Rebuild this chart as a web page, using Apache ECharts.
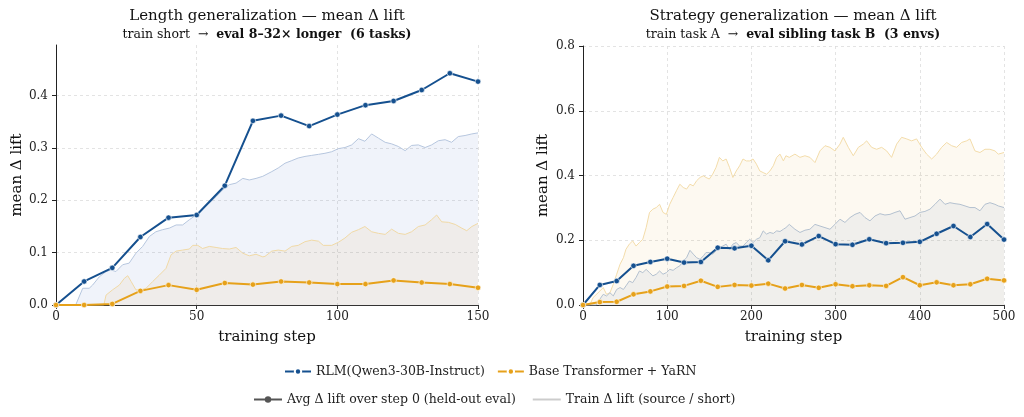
<!DOCTYPE html>
<html>
<head>
<meta charset="utf-8">
<title>mean lift</title>
<script src="https://cdn.jsdelivr.net/npm/echarts@6.0.0/dist/echarts.min.js"></script>
<style>
html,body{margin:0;padding:0;background:#fff;}
#main{width:1024px;height:417px;}
</style>
</head>
<body>
<div id="main"></div>
<script>
// length generalization: eval every 10 steps
var lenSteps = [0,10,20,30,40,50,60,70,80,90,100,110,120,130,140,150];
var lenRlm  = [0,0.045,0.071,0.130,0.167,0.172,0.228,0.352,0.362,0.342,0.364,0.382,0.390,0.411,0.443,0.427];
var lenBase = [0,0,0.002,0.027,0.038,0.029,0.042,0.039,0.045,0.043,0.040,0.040,0.047,0.043,0.040,0.033];

// train curves (step, value)
var lenTrainRlm = [[0,0],[7,0],[9.5,0.032],[11.8,0.032],[13,0.038],[15.4,0.054],[17.8,0.064],[19.5,0.067],[21.3,0.064],[23.7,0.077],[26,0.080],[28.4,0.099],[30.8,0.112],[33.2,0.131],[35.5,0.140],[37.9,0.144],[40.3,0.147],[42.7,0.153],[45,0.153],[47.4,0.163],[49.8,0.172],[52.1,0.185],[54.5,0.195],[56.9,0.207],[59.2,0.220],[61.6,0.230],[64,0.233],[66.4,0.242],[68.7,0.239],[71.1,0.242],[73.5,0.246],[76.7,0.255],[79,0.262],[81.4,0.271],[83.8,0.276],[86.1,0.281],[88.5,0.284],[90.9,0.286],[93.3,0.288],[95.6,0.290],[98,0.293],[100.4,0.299],[102.7,0.301],[105.1,0.306],[107.5,0.318],[109.8,0.313],[112.2,0.327],[114.6,0.319],[117,0.311],[119.3,0.308],[121.7,0.303],[124.1,0.295],[126.4,0.305],[128.8,0.306],[131.2,0.301],[133.5,0.306],[135.9,0.314],[138.3,0.316],[140.6,0.311],[143,0.322],[145.4,0.324],[147.8,0.327],[150,0.329]];
var lenTrainBase = [[0,0],[17,0],[17.8,0.019],[20.1,0.029],[22.5,0.038],[24.3,0.051],[25.5,0.056],[26.7,0.045],[28.4,0.029],[30.2,0.029],[32,0.032],[34.4,0.045],[36.7,0.057],[39.1,0.070],[40.9,0.096],[42.7,0.103],[45,0.105],[47.4,0.107],[48.6,0.114],[50.4,0.114],[52.1,0.108],[54.5,0.112],[56.9,0.110],[59.2,0.108],[61.6,0.107],[64,0.110],[66.4,0.099],[68.7,0.094],[71.1,0.097],[73.5,0.092],[74.3,0.093],[76.7,0.103],[79,0.105],[81.4,0.103],[83.8,0.112],[86.1,0.114],[88.5,0.121],[90.9,0.124],[93.3,0.122],[95,0.114],[98,0.114],[100.4,0.120],[102.7,0.128],[105.1,0.139],[107.5,0.144],[109.8,0.150],[112.2,0.140],[114.6,0.137],[117,0.135],[119.3,0.145],[121.7,0.137],[124.1,0.135],[126.4,0.140],[128.8,0.150],[131.2,0.153],[133.5,0.163],[135.3,0.172],[137.1,0.159],[139.5,0.158],[141.9,0.154],[144.2,0.147],[146,0.142],[147.8,0.150],[150,0.156]];

// strategy generalization: eval every 20 steps
var strSteps = [0,20,40,60,80,100,120,140,160,180,200,220,240,260,280,300,320,340,360,380,400,420,440,460,480,500];
var strRlm  = [0,0.062,0.074,0.121,0.133,0.143,0.131,0.133,0.177,0.175,0.183,0.138,0.197,0.187,0.213,0.188,0.186,0.203,0.191,0.192,0.195,0.220,0.244,0.210,0.250,0.202];
var strBase = [0,0.009,0.010,0.033,0.042,0.057,0.059,0.075,0.056,0.062,0.060,0.066,0.051,0.062,0.053,0.064,0.058,0.061,0.059,0.086,0.061,0.070,0.061,0.064,0.081,0.076];

var strTrainRlm = [[0,0],[16,0],[20,0.018],[24,0.033],[28,0.028],[32,0.038],[36,0.028],[40,0.048],[44,0.054],[48,0.048],[51,0.059],[55,0.074],[59,0.069],[63,0.085],[67,0.105],[71,0.100],[75,0.110],[79,0.100],[83,0.090],[87,0.095],[91,0.105],[95,0.095],[99,0.100],[103,0.110],[107,0.107],[111,0.115],[115,0.121],[119,0.136],[123,0.146],[127,0.169],[131,0.157],[135,0.146],[139,0.141],[143,0.152],[146,0.162],[150,0.162],[154,0.157],[158,0.167],[162,0.177],[166,0.182],[170,0.188],[174,0.172],[178,0.188],[182,0.193],[186,0.182],[190,0.182],[194,0.193],[198,0.203],[202,0.193],[206,0.203],[210,0.208],[214,0.229],[218,0.219],[222,0.224],[226,0.221],[230,0.229],[234,0.227],[238,0.234],[241,0.239],[245,0.249],[251.7,0.234],[257.7,0.224],[263.6,0.231],[269.5,0.234],[275.5,0.249],[281.4,0.244],[287.4,0.239],[293.3,0.234],[299.2,0.249],[305.2,0.265],[311.1,0.255],[317.1,0.270],[323,0.280],[329,0.286],[334.9,0.270],[340.8,0.260],[346.8,0.275],[352.7,0.282],[358.6,0.278],[364.6,0.280],[370.5,0.286],[376.5,0.291],[382.4,0.265],[388.3,0.270],[394.3,0.275],[400.2,0.286],[406.1,0.289],[412.1,0.296],[418,0.311],[424,0.327],[429.9,0.311],[435.8,0.316],[441.8,0.313],[447.7,0.311],[453.7,0.306],[459.6,0.301],[465.5,0.301],[471.5,0.291],[477.4,0.311],[483.3,0.316],[489.3,0.311],[493.2,0.306],[500,0.301]];
var strTrainBase = [[0,0],[8,0],[12,0.023],[20,0.043],[24,0.054],[28,0.033],[32,0.038],[36,0.064],[40,0.095],[44,0.126],[48,0.146],[51,0.172],[55,0.188],[59,0.198],[63,0.182],[67,0.193],[71,0.203],[75,0.239],[79,0.286],[83,0.296],[87,0.301],[91,0.311],[95,0.286],[99,0.280],[103,0.311],[107,0.332],[111,0.353],[115,0.373],[119,0.363],[123,0.358],[127,0.373],[131,0.368],[135,0.384],[139,0.394],[143,0.399],[146,0.394],[150,0.389],[154,0.404],[158,0.425],[162,0.456],[166,0.445],[170,0.451],[174,0.425],[178,0.394],[182,0.414],[186,0.430],[190,0.451],[194,0.445],[198,0.445],[202,0.451],[206,0.435],[210,0.414],[214,0.409],[218,0.404],[222,0.414],[226,0.430],[230,0.456],[234,0.466],[238,0.445],[241,0.461],[245,0.456],[251.7,0.466],[257.7,0.456],[263.6,0.461],[269.5,0.456],[275.5,0.440],[281.4,0.476],[287.4,0.492],[293.3,0.487],[299.2,0.476],[305.2,0.497],[309.1,0.518],[315.1,0.487],[321,0.461],[327,0.487],[332.9,0.497],[336.9,0.507],[342.8,0.487],[348.7,0.481],[354.7,0.487],[360.6,0.476],[366.5,0.456],[372.5,0.497],[378.4,0.518],[384.4,0.513],[390.3,0.507],[396.2,0.513],[402.2,0.487],[408.1,0.466],[414.1,0.451],[420,0.466],[425.9,0.487],[431.9,0.502],[437.8,0.492],[443.7,0.487],[449.7,0.502],[455.6,0.507],[459.6,0.513],[465.5,0.476],[471.5,0.471],[477.4,0.481],[483.3,0.481],[489.3,0.476],[493.2,0.466],[500,0.471]];

var lenTicksY = [0,0.1,0.2,0.3,0.4];
var names = ['RLM(Qwen3-30B-Instruct)','Base Transformer + YaRN','Avg Δ lift over step 0 (held-out eval)','Train Δ lift (source / short)'];

var FONT = '"DejaVu Serif", serif';
var BLUE = '#15508f', ORANGE = '#e6a11a';

function zip(xs, ys){
    var out = [];
    for(var i=0;i<xs.length;i++){ out.push([xs[i], ys[i]]); }
    return out;
}

function evalLine(name, color, idx, steps, vals){
    return {
        name: name, type: 'line', xAxisIndex: idx, yAxisIndex: idx,
        data: zip(steps, vals),
        symbol: 'circle', symbolSize: 5.5, showSymbol: true,
        lineStyle: {color: color, width: 2},
        itemStyle: {color: color, borderColor: '#fff', borderWidth: 0.6},
        z: 5
    };
}

function trainLine(color, fill, idx, pts){
    return {
        type: 'line', xAxisIndex: idx, yAxisIndex: idx,
        data: pts, showSymbol: false, symbol: 'none',
        lineStyle: {color: color, width: 1},
        areaStyle: {color: fill, origin: 0},
        z: 2, silent: true
    };
}

function xAx(idx, max, step){
    return {
        gridIndex: idx, type: 'value', min: 0, max: max, interval: step,
        name: 'training step', nameLocation: 'middle', nameGap: 25,
        nameTextStyle: {fontFamily: FONT, fontSize: 15, color: '#111'},
        axisLine: {onZero: false, lineStyle: {color: '#333', width: 1.2}},
        axisTick: {show: true, length: 4, lineStyle: {color: '#333'}},
        axisLabel: {fontFamily: FONT, fontSize: 12, color: '#222', margin: 6},
        splitLine: {show: true, lineStyle: {color: '#dcdcdc', type: [3,3], width: 0.8}}
    };
}

function yAx(idx, max, step, gap){
    var ax = {
        gridIndex: idx, type: 'value', min: 0, max: max,
        name: 'mean Δ lift', nameLocation: 'middle', nameRotate: 90, nameGap: gap,
        nameTextStyle: {fontFamily: FONT, fontSize: 15, color: '#111'},
        axisLine: {show: true, lineStyle: {color: '#222', width: 1}},
        axisTick: {show: true, length: 4, lineStyle: {color: '#222'}},
        axisLabel: {fontFamily: FONT, fontSize: 12, color: '#222', margin: 8,
            formatter: function(v){ return v.toFixed(1); }},
        splitLine: {show: true, lineStyle: {color: '#dcdcdc', type: [3,3], width: 0.8}}
    };
    if(step){ ax.interval = step; }
    return ax;
}

var yLeft = yAx(0, 0.497, null, 30);
yLeft.axisTick.customValues = lenTicksY;
yLeft.axisLabel.customValues = lenTicksY;

var myChart = echarts.init(document.getElementById('main'), null, {renderer: 'canvas'});

var legText = {fontFamily: FONT, fontSize: 12.5, color: '#222'};

myChart.setOption({
    animation: false,
    backgroundColor: '#fff',
    grid: [
        {left: 56, right: 546, top: 45, bottom: 112, outerBoundsMode: 'none'},
        {left: 583, right: 20, top: 46, bottom: 112, outerBoundsMode: 'none'}
    ],
    xAxis: [xAx(0, 150, 50), xAx(1, 500, 100)],
    yAxis: [yLeft, yAx(1, 0.8, 0.2, 32)],
    legend: [
        {data: [names[0], names[1]], left: 279, top: 360, itemWidth: 26, itemHeight: 8, itemGap: 12,
         textStyle: legText, selectedMode: false},
        {data: [names[2], names[3]], left: 248, top: 388, itemWidth: 28, itemHeight: 8, itemGap: 16,
         textStyle: legText, selectedMode: false}
    ],
    graphic: [
        {type: 'text', x: 267, y: 16, style: {text: 'Length generalization — mean Δ lift',
            font: '15px "DejaVu Serif"', fill: '#111', align: 'center', verticalAlign: 'middle'}},
        {type: 'text', x: 267, y: 35, style: {text: 'train short  →  {b|eval 8–32× longer  (6 tasks)}',
            font: '12.5px "DejaVu Serif"', fill: '#111', align: 'center', verticalAlign: 'middle',
            rich: {b: {fontFamily: FONT, fontSize: 12.5, fontWeight: 'bold', fill: '#111'}}}},
        {type: 'text', x: 793, y: 16, style: {text: 'Strategy generalization — mean Δ lift',
            font: '15px "DejaVu Serif"', fill: '#111', align: 'center', verticalAlign: 'middle'}},
        {type: 'text', x: 793, y: 35, style: {text: 'train task A  →  {b|eval sibling task B  (3 envs)}',
            font: '12.5px "DejaVu Serif"', fill: '#111', align: 'center', verticalAlign: 'middle',
            rich: {b: {fontFamily: FONT, fontSize: 12.5, fontWeight: 'bold', fill: '#111'}}}}
    ],
    series: [
        trainLine('#b6c6de', 'rgba(40,90,180,0.10)', 0, lenTrainRlm),
        trainLine('#f0d9a6', 'rgba(230,160,24,0.10)', 0, lenTrainBase),
        trainLine('#f3dcaa', 'rgba(230,160,24,0.09)', 1, strTrainBase),
        trainLine('#b3c0cf', 'rgba(40,90,180,0.09)', 1, strTrainRlm),
        evalLine(names[0], BLUE, 0, lenSteps, lenRlm),
        evalLine(names[1], ORANGE, 0, lenSteps, lenBase),
        evalLine(names[0], BLUE, 1, strSteps, strRlm),
        evalLine(names[1], ORANGE, 1, strSteps, strBase),
        // legend-only entries
        {name: names[2], type: 'line', xAxisIndex: 0, yAxisIndex: 0, data: [],
         symbol: 'circle', symbolSize: 5, lineStyle: {color: '#555', width: 2}, itemStyle: {color: '#555'}},
        {name: names[3], type: 'line', xAxisIndex: 0, yAxisIndex: 0, data: [],
         symbol: 'none', lineStyle: {color: '#cccccc', width: 1.5}, itemStyle: {color: 'rgba(0,0,0,0)'}}
    ]
});
</script>
</body>
</html>
